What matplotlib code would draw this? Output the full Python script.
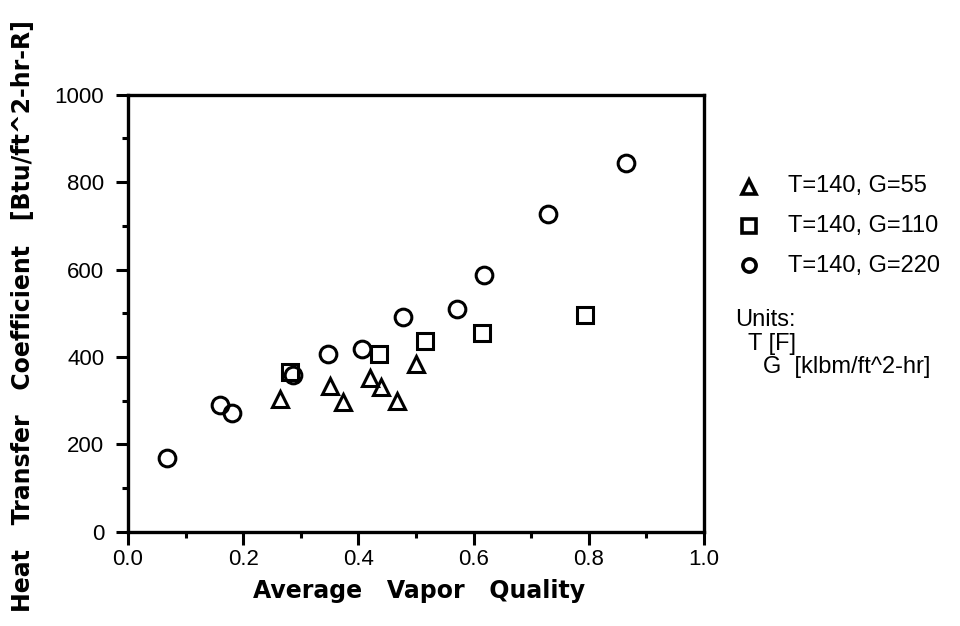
import matplotlib
matplotlib.use("Agg")
import matplotlib.pyplot as plt
from matplotlib.lines import Line2D

plt.rcParams['font.family'] = ['Liberation Sans', 'DejaVu Sans']

# Data: T=140, G=55 (triangles)
x_g55 = [0.264, 0.350, 0.374, 0.421, 0.440, 0.467, 0.500]
y_g55 = [303, 334, 298, 351, 332, 300, 385]
# T=140, G=110 (squares)
x_g110 = [0.281, 0.436, 0.516, 0.614, 0.794]
y_g110 = [366, 406, 437, 454, 496]
# T=140, G=220 (circles)
x_g220 = [0.067, 0.159, 0.180, 0.286, 0.347, 0.406, 0.477, 0.571, 0.618, 0.730, 0.865]
y_g220 = [170, 290, 272, 359, 406, 418, 491, 509, 588, 727, 844]

labels = ["T=140, G=55", "T=140, G=110", "T=140, G=220"]
x_ticks = [0.0, 0.2, 0.4, 0.6, 0.8, 1.0]
y_ticks = [0, 200, 400, 600, 800, 1000]

fig = plt.figure(figsize=(9.6, 6.26), dpi=100)
ax = fig.add_axes([0.1333, 0.1502, 0.6, 0.6988])

style = dict(linestyle='none', markerfacecolor='none', markeredgecolor='black',
             markeredgewidth=2.2, clip_on=False)
ax.plot(x_g55, y_g55, marker='^', markersize=11, **style)
ax.plot(x_g110, y_g110, marker='s', markersize=11, **style)
ax.plot(x_g220, y_g220, marker='o', markersize=12, **style)

ax.set_xlim(0, 1.0)
ax.set_ylim(0, 1000)
ax.set_xticks(x_ticks)
ax.set_xticklabels([f"{v:.1f}" for v in x_ticks])
ax.set_yticks(y_ticks)
ax.set_yticklabels([str(v) for v in y_ticks])
ax.set_xticks([0.1, 0.3, 0.5, 0.7, 0.9], minor=True)
ax.set_yticks([100, 300, 500, 700, 900], minor=True)
ax.tick_params(which='major', direction='out', length=9, width=2.2, labelsize=16)
ax.tick_params(which='minor', direction='out', length=4.5, width=2.2)
ax.tick_params(axis='x', which='major', pad=3)
ax.tick_params(axis='y', which='major', pad=8)
for s in ax.spines.values():
    s.set_linewidth(2.4)

fig.text(0.4365, 0.0447, "Average   Vapor   Quality", fontsize=17, fontweight='bold',
         family='DejaVu Sans', ha='center', va='baseline')
fig.text(0.024, 0.495, "Heat   Transfer   Coefficient   [Btu/ft^2-hr-R]",
         rotation=90, fontsize=17, fontweight='bold', family='DejaVu Sans',
         ha='center', va='center')

# Legend (outside right), drawn in figure coordinates
leg_markers = ['^', 's', 'o']
leg_marker_y = [0.7013, 0.6382, 0.5759]
leg_text_y = [0.6933, 0.6294, 0.5655]
for m, my, ty, lab in zip(leg_markers, leg_marker_y, leg_text_y, labels):
    fig.add_artist(Line2D([0.7802], [my], transform=fig.transFigure, marker=m,
                          markersize=10 if m != 'o' else 9.5,
                          linestyle='none', markerfacecolor='none',
                          markeredgecolor='black', markeredgewidth=2.6))
    fig.text(0.8208, ty, lab, fontsize=17, va='baseline', ha='left')

fig.text(0.7656, 0.4792, "Units:", fontsize=17, va='baseline')
fig.text(0.7792, 0.4409, "T [F]", fontsize=17, va='baseline')
fig.text(0.7948, 0.4042, "G  [klbm/ft^2-hr]", fontsize=17, va='baseline')

fig.savefig("out.png", dpi=100)
